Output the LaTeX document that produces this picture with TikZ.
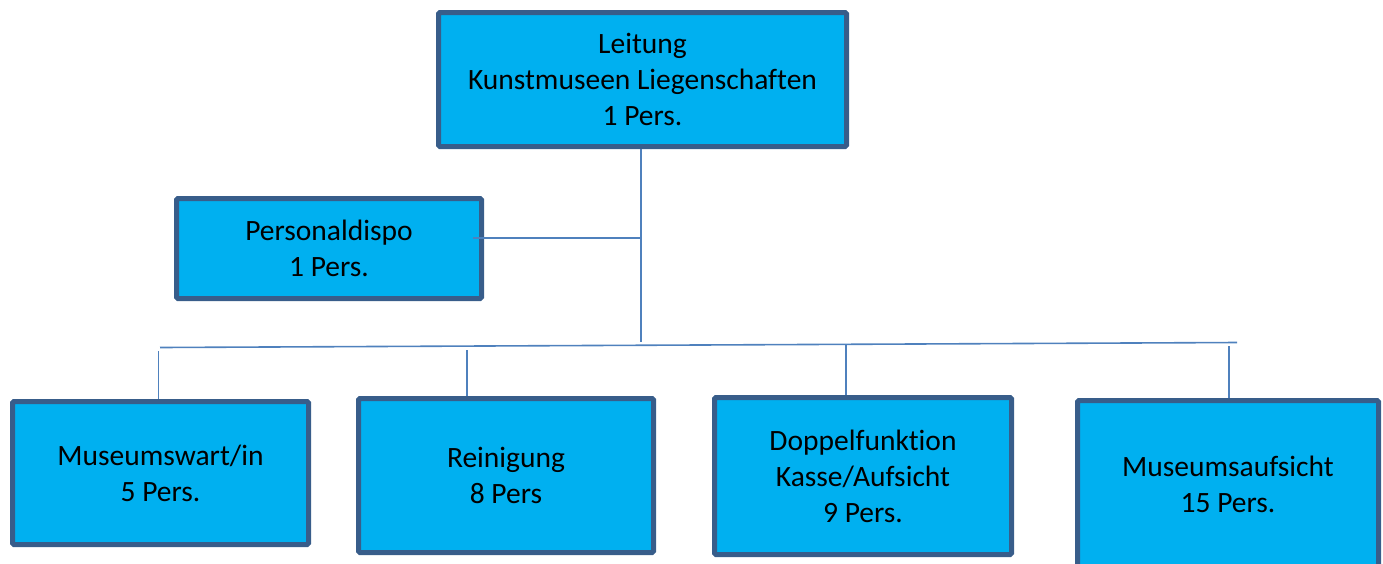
\documentclass[tikz,border=0pt]{standalone}
\usepackage{fontspec}
\setmainfont{Carlito}[Ligatures={NoCommon}]
\definecolor{boxfill}{HTML}{00B0F0}
\definecolor{boxline}{HTML}{385D8A}
\definecolor{conn}{HTML}{4F81BD}
\begin{document}
\begin{tikzpicture}[x=1pt,y=-1pt,
  orgbox/.style={draw=boxline, fill=boxfill, line width=5pt, rounded corners=1.5pt,
    align=center, inner sep=0pt, font=\fontsize{29.5}{36}\selectfont},
  conline/.style={draw=conn, line width=1.6pt}]
\useasboundingbox (0,0) rectangle (1383,563);
\begin{scope}
\clip (0,0) rectangle (1383,563);
\node[orgbox, minimum width=408pt, minimum height=134pt] (lead) at (642.5,79.5)
  {Leitung\\Kunstmuseen Liegenschaften\\1 Pers.};
\node[orgbox, minimum width=305pt, minimum height=100pt] (dispo) at (329,248.5)
  {Personaldispo\\1 Pers.};
\node[orgbox, minimum width=296pt, minimum height=143pt] (wart) at (160.5,473)
  {Museumswart/in\\5 Pers.};
\node[orgbox, minimum width=295pt, minimum height=154pt] (rein) at (506,475.5)
  {Reinigung\\8 Pers};
\node[orgbox, minimum width=297pt, minimum height=157pt] (doppel) at (863,476)
  {Doppelfunktion\\Kasse/Aufsicht\\9 Pers.};
\node[orgbox, minimum width=301pt, minimum height=167pt] (aufs) at (1228,484)
  {Museumsaufsicht\\15 Pers.};
\end{scope}
\coordinate (trunk) at (641,342);
\coordinate (busL) at (160,347.5);
\coordinate (busR) at (1237,342.5);
\coordinate (d1) at (158.5,351);
\coordinate (d2) at (467,350);
\coordinate (d3) at (846,345);
\coordinate (d4) at (1229,346);
\coordinate (dispoEnd) at (473,238);
\draw[conline] (lead.south -| trunk) -- (trunk);
\draw[conline] (dispoEnd) -- (dispoEnd -| trunk);
\draw[conline] (busL) -- (busR);
\draw[conline] (d1) -- (d1 |- wart.north);
\draw[conline] (d2) -- (d2 |- rein.north);
\draw[conline] (d3) -- (d3 |- doppel.north);
\draw[conline] (d4) -- (d4 |- aufs.north);
\end{tikzpicture}
\end{document}
